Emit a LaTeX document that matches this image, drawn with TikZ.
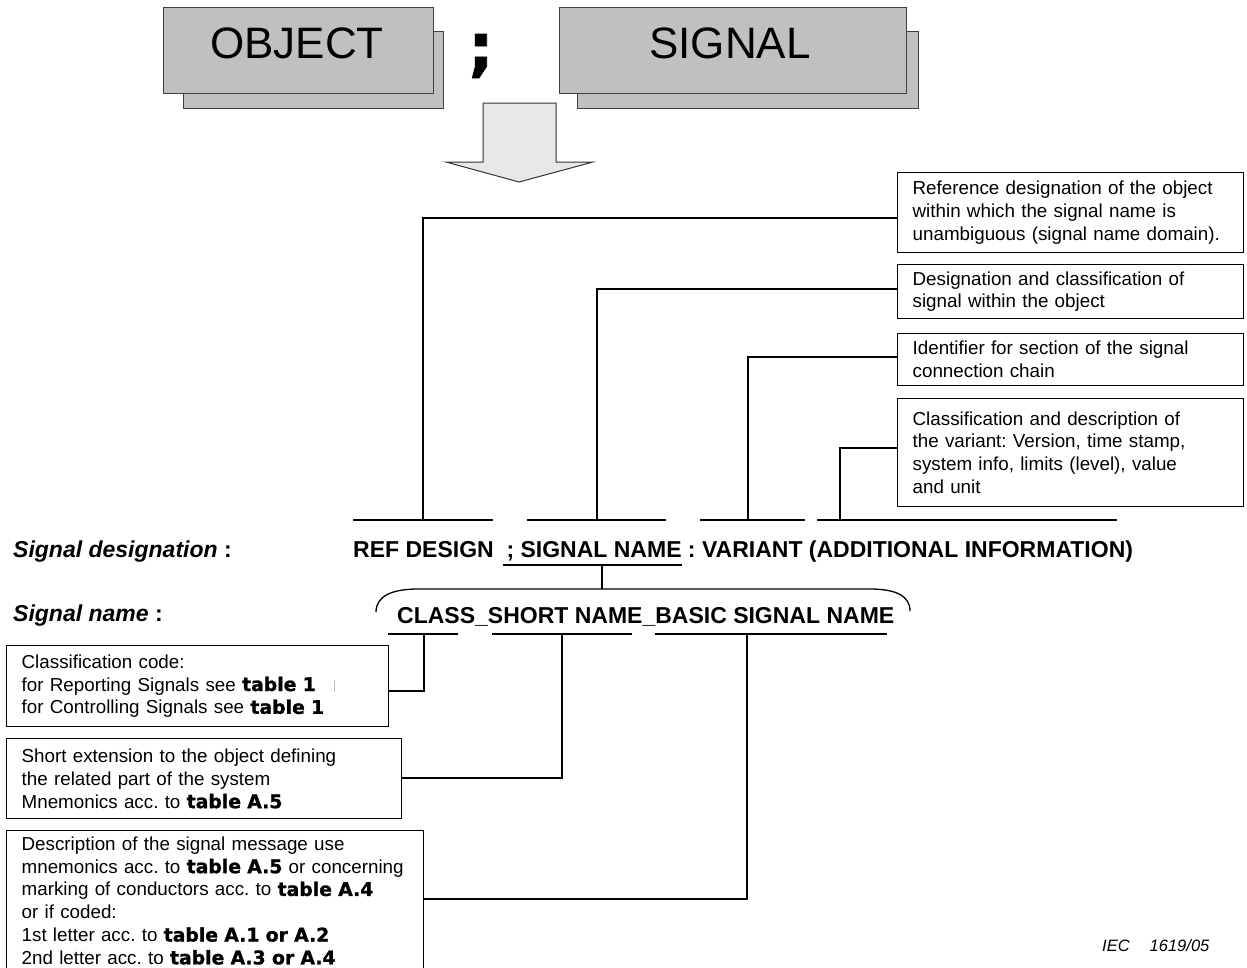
\documentclass[tikz,border=0pt]{standalone}
\usepackage{fontspec}
\setmainfont{Liberation Sans}
\newfontfamily\heavyfont[BoldFeatures={FakeBold=1.2}]{DejaVu Sans}
\newcommand{\tref}[1]{{\heavyfont\bfseries #1}}
\definecolor{platefill}{HTML}{C0C0C0}
\definecolor{arrowfill}{HTML}{E8E8E8}
\frenchspacing
\begin{document}
\begin{tikzpicture}[x=1pt,y=-1pt,
  lead/.style={line width=1.3pt},
  plate/.style={draw=black!75, fill=platefill, line width=1pt},
  note/.style={draw, line width=1.3pt, align=left, inner xsep=15pt, inner ysep=0pt,
    anchor=north west, font=\fontsize{18.8}{22.8}\selectfont},
  big/.style={font=\fontsize{44}{44}\selectfont, anchor=base, inner sep=0pt},
  rowlabel/.style={font=\fontsize{23}{26}\selectfont\bfseries, anchor=base west, inner sep=0pt},
  rowtext/.style={font=\fontsize{23}{26}\selectfont\bfseries, anchor=base west, inner sep=0pt}]
\useasboundingbox (0,0) rectangle (1247,967);

% ---- header: OBJECT ; SIGNAL ----
\draw[plate] (183,31) rectangle (443,108);
\draw[plate] (163,7) rectangle (433,93);
\node[big] (obj) at (297,58) {OBJECT};
\node[font=\fontsize{64}{64}\selectfont\heavyfont\bfseries, anchor=base, inner sep=0pt] (semi) at (481,69) {;};
\draw[plate] (577,31) rectangle (918,108);
\draw[plate] (559,7) rectangle (906,93);
\node[big] (sig) at (730,58) {SIGNAL};

% block arrow pointing down
\draw[fill=arrowfill, draw=black!80, line width=1pt]
  (483,103) -- (556,103) -- (556,162) -- (593,162) -- (519,182)
  -- (446,162) -- (483,162) -- cycle;

% ---- explanation boxes, right side ----
\node[note, text width=316pt, minimum height=80pt] (r1) at (897,172)
  {Reference designation of the object\\within which the signal name is\\unambiguous (signal name domain).};
\node[note, text width=316pt, minimum height=54pt] (r2) at (897,264)
  {Designation and classification of\\signal within the object};
\node[note, text width=316pt, minimum height=52pt] (r3) at (897,333)
  {Identifier for section of the signal\\connection chain};
\node[note, text width=316pt, minimum height=108pt] (r4) at (897,398)
  {Classification and description of\\the variant: Version, time stamp,\\system info, limits (level), value\\and unit};

% ---- upper bars over the designation parts ----
\coordinate (t1) at (423,520); \coordinate (t2) at (597,520);
\coordinate (t3) at (748,520); \coordinate (t4) at (840,520);
\draw[lead] (353,520) -- (493,520);
\draw[lead] (527,520) -- (666,520);
\draw[lead] (700,520) -- (805,520);
\draw[lead] (817,520) -- (1117,520);

\coordinate (j1) at (423,218); \coordinate (j2) at (597,289);
\coordinate (j3) at (748,357); \coordinate (j4) at (840,448);
\draw[lead] (r1.west |- j1) -- (j1) -- (t1);
\draw[lead] (r2.west |- j2) -- (j2) -- (t2);
\draw[lead] (r3.west |- j3) -- (j3) -- (t3);
\draw[lead] (r4.west |- j4) -- (j4) -- (t4);

% ---- signal designation row ----
\node[rowlabel] (lab1) at (13,557) {\textit{Signal designation} :};
\node[rowtext] (desig) at (353,557)
  {REF DESIGN\ \ ; SIGNAL NAME : VARIANT (ADDITIONAL INFORMATION)};
\coordinate (u1) at (503,565); \coordinate (u2) at (682,565);
\coordinate (um) at (602,565); \coordinate (bt) at (602,589);
\draw[lead] (u1) -- (u2);
\draw[lead] (um) -- (bt);

% curly cap over the signal name
\draw[line width=1.3pt] (376,612) .. controls (376,596) and (392,589) .. (418,589)
  -- (870,589) .. controls (896,589) and (910,596) .. (910,611);

% ---- signal name row ----
\node[rowlabel] (lab2) at (13,621) {\textit{Signal name} :};
\node[rowtext] (sname) at (397,623) {CLASS\_SHORT NAME\_BASIC SIGNAL NAME};

% lower bars under the name parts
\coordinate (b1) at (424,634); \coordinate (b2) at (562,634); \coordinate (b3) at (747,634);
\draw[lead] (388,634) -- (458,634);
\draw[lead] (492,634) -- (632,634);
\draw[lead] (655,634) -- (887,634);

% ---- explanation boxes, left side ----
\node[note, text width=352pt, minimum height=81pt] (l1) at (6,645)
  {Classification code:\\for Reporting Signals see \tref{table 1}\\for Controlling Signals see \tref{table 1}};
\draw[black!25, line width=0.8pt] (334,680) -- (334,692);
\node[note, text width=365pt, minimum height=80pt] (l2) at (6,738)
  {Short extension to the object defining\\the related part of the system\\Mnemonics acc. to \tref{table A.5}};
\node[note, text width=387pt, minimum height=140pt] (l3) at (6,830)
  {Description of the signal message use\\mnemonics acc. to \tref{table A.5} or concerning\\marking of conductors acc. to \tref{table A.4}\\or if coded:\\1st letter acc. to\ \tref{table A.1 or A.2}\\2nd letter acc. to \tref{table A.3 or A.4}};

\coordinate (k1) at (424,691); \coordinate (k2) at (562,778); \coordinate (k3) at (747,899);
\draw[lead] (l1.east |- k1) -- (k1) -- (b1);
\draw[lead] (l2.east |- k2) -- (k2) -- (b2);
\draw[lead] (l3.east |- k3) -- (k3) -- (b3);

% figure reference
\node[font=\fontsize{16.5}{18}\selectfont\itshape, anchor=base west, inner sep=0pt] (iec) at (1102,951)
  {IEC\hspace{20pt}1619/05};
\end{tikzpicture}
\end{document}
